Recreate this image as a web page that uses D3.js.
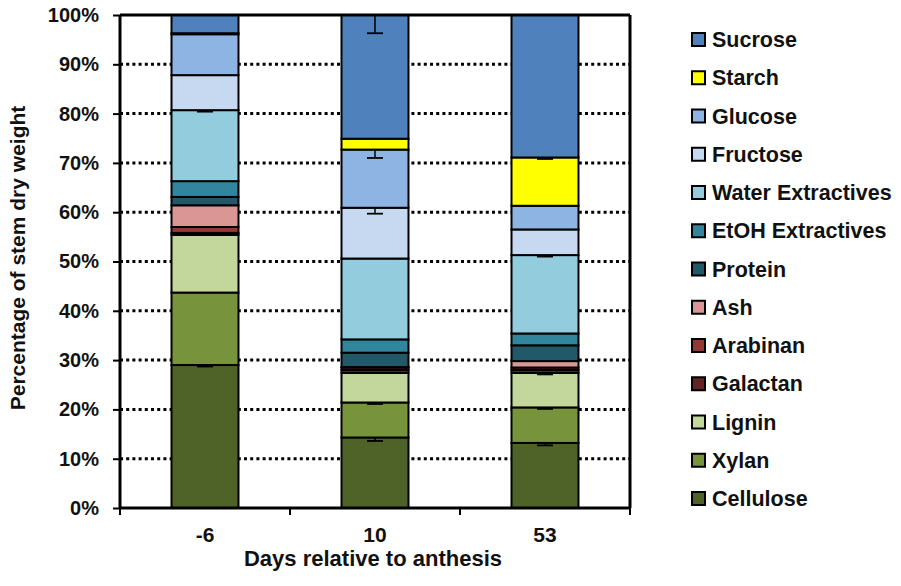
<!DOCTYPE html>
<html><head><meta charset="utf-8">
<script src="https://cdn.jsdelivr.net/npm/d3@7"></script>
<style>body{margin:0;background:#fff;} svg{display:block;} text{font-family:"Liberation Sans",Arial,sans-serif;font-weight:bold;fill:#111;}</style>
</head><body><svg id="c" width="901" height="586"></svg>
<script>
const categories = ["-6", "10", "53"];
const seriesNames = ["Cellulose","Xylan","Lignin","Galactan","Arabinan","Ash","Protein","EtOH Extractives","Water Extractives","Fructose","Glucose","Starch","Sucrose"];
const cellulose = [29.0, 14.3, 13.2];
const xylan = [14.7, 7.1, 7.2];
const lignin = [11.7, 6.0, 7.0];
const galactan = [0.4, 0.6, 0.6];
const arabinan = [1.2, 0.5, 0.5];
const ash = [4.4, 0.1, 1.3];
const protein = [1.7, 2.9, 3.2];
const etoh = [3.2, 2.7, 2.4];
const water = [14.4, 16.4, 15.9];
const fructose = [7.1, 10.3, 5.2];
const glucose = [8.3, 11.8, 4.8];
const starch = [0.2, 2.2, 9.8];
const sucrose = [3.7, 25.1, 28.9];
// downward error bar lengths (percentage points) at top of each segment
const errCellulose = [0.3, 0.7, 0.5];
const errXylan = [0, 0.3, 0.3];
const errLignin = [0, 0, 0.3];
const errWater = [0.3, 0, 0.3];
const errFructose = [0, 1.2, 0];
const errGlucose = [0, 1.7, 0];
const errStarch = [0, 0, 0.3];
const errSucrose = [0, 3.7, 0];
const yTicks = [0,10,20,30,40,50,60,70,80,90,100];
const colors = ["#4F6228","#77933C","#C3D69B","#632523","#953735","#D99694","#215968","#31859C","#93CDDD","#C6D9F1","#8EB4E3","#FFFF00","#4F81BD"];

const seriesValues = [cellulose,xylan,lignin,galactan,arabinan,ash,protein,etoh,water,fructose,glucose,starch,sucrose];
const seriesErr = [errCellulose,errXylan,errLignin,null,null,null,null,null,errWater,errFructose,errGlucose,errStarch,errSucrose];

const rows = categories.map((c,i)=>{const o={cat:c}; seriesNames.forEach((s,j)=>o[s]=seriesValues[j][i]); return o;});
const stack = d3.stack().keys(seriesNames)(rows);

const svg = d3.select("#c");
const L=120, R=630, T=15, B=508;
const x = d3.scaleBand().domain(categories).range([L,R]).paddingInner(0.606).paddingOuter(0.303);
const y = d3.scaleLinear().domain([0,100]).range([B,T]);

// gridlines
svg.append("g").selectAll("line").data(yTicks.filter(t=>t>0&&t<100)).join("line")
  .attr("x1",L).attr("x2",R).attr("y1",d=>y(d)).attr("y2",d=>y(d))
  .attr("stroke","#000").attr("stroke-width",3).attr("stroke-dasharray","3,3.2");

// bars
const g = svg.append("g");
stack.forEach((layer,j)=>{
  g.append("g").selectAll("rect").data(layer).join("rect")
    .attr("x",d=>x(d.data.cat)).attr("width",x.bandwidth())
    .attr("y",d=>y(d[1])).attr("height",d=>Math.max(0,y(d[0])-y(d[1])))
    .attr("fill",colors[j]).attr("stroke","#000").attr("stroke-width",2);
});
// error bars
stack.forEach((layer,j)=>{
  const e = seriesErr[j]; if(!e) return;
  layer.forEach((d,i)=>{
    if(!e[i]) return;
    const cx = x(d.data.cat)+x.bandwidth()/2, y1=y(d[1]), y2=y(d[1]-e[i]);
    g.append("line").attr("x1",cx).attr("x2",cx).attr("y1",y1).attr("y2",y2).attr("stroke","#000").attr("stroke-width",1.5);
    g.append("line").attr("x1",cx-8).attr("x2",cx+8).attr("y1",y2).attr("y2",y2).attr("stroke","#000").attr("stroke-width",1.8);
  });
});

// frame
svg.append("line").attr("x1",L).attr("x2",R).attr("y1",T).attr("y2",T).attr("stroke","#000").attr("stroke-width",3);
svg.append("line").attr("x1",R).attr("x2",R).attr("y1",T).attr("y2",B).attr("stroke","#000").attr("stroke-width",3);

// y axis
const yAxis = svg.append("g").attr("transform",`translate(${L},0)`)
  .call(d3.axisLeft(y).tickValues(yTicks).tickFormat(d=>d+"%").tickSize(7).tickPadding(14));
yAxis.select(".domain").attr("stroke","#000").attr("stroke-width",3).attr("d",`M0,${T}V${B}`);
yAxis.selectAll(".tick line").attr("stroke","#000").attr("stroke-width",2);
yAxis.selectAll(".tick text").style("font-size","20px").style("font-family","Liberation Sans, Arial, sans-serif").style("font-weight","bold").attr("fill","#111").attr("x",-21);

// x axis
const xAxis = svg.append("g").attr("transform",`translate(0,${B})`)
  .call(d3.axisBottom(x).tickSize(0).tickPadding(0));
xAxis.select(".domain").attr("stroke","#000").attr("stroke-width",3).attr("d",`M${L},0H${R}`);
xAxis.selectAll(".tick text").style("font-size","21px").style("font-family","Liberation Sans, Arial, sans-serif").style("font-weight","bold").attr("fill","#111")
  .attr("dy",null).attr("y",34);
const bounds = [L].concat(categories.map(c=>x(c)+x.bandwidth()+x.step()*x.paddingInner()/2).slice(0,2)).concat([R]);
xAxis.append("g").selectAll("line").data(bounds).join("line")
  .attr("x1",d=>d).attr("x2",d=>d).attr("y1",0).attr("y2",7).attr("stroke","#000").attr("stroke-width",2);

// axis titles
svg.append("text").attr("transform",`translate(25,258) rotate(-90)`).attr("text-anchor","middle")
  .style("font-size","21px").text("Percentage of stem dry weight");
svg.append("text").attr("x",373).attr("y",566).attr("text-anchor","middle")
  .style("font-size","22px").text("Days relative to anthesis");

// legend (top to bottom reversed order)
const legendNames = seriesNames.slice().reverse();
const legendColors = colors.slice().reverse();
const lg = svg.append("g");
legendNames.forEach((n,i)=>{
  const cy = 39.5 + i*38.25;
  lg.append("rect").attr("x",692).attr("y",cy-6.5).attr("width",13).attr("height",13)
    .attr("fill",legendColors[i]).attr("stroke","#000").attr("stroke-width",2);
  lg.append("text").attr("x",712).attr("y",cy+7.5).style("font-size","21.5px").text(n);
});
</script></body></html>
